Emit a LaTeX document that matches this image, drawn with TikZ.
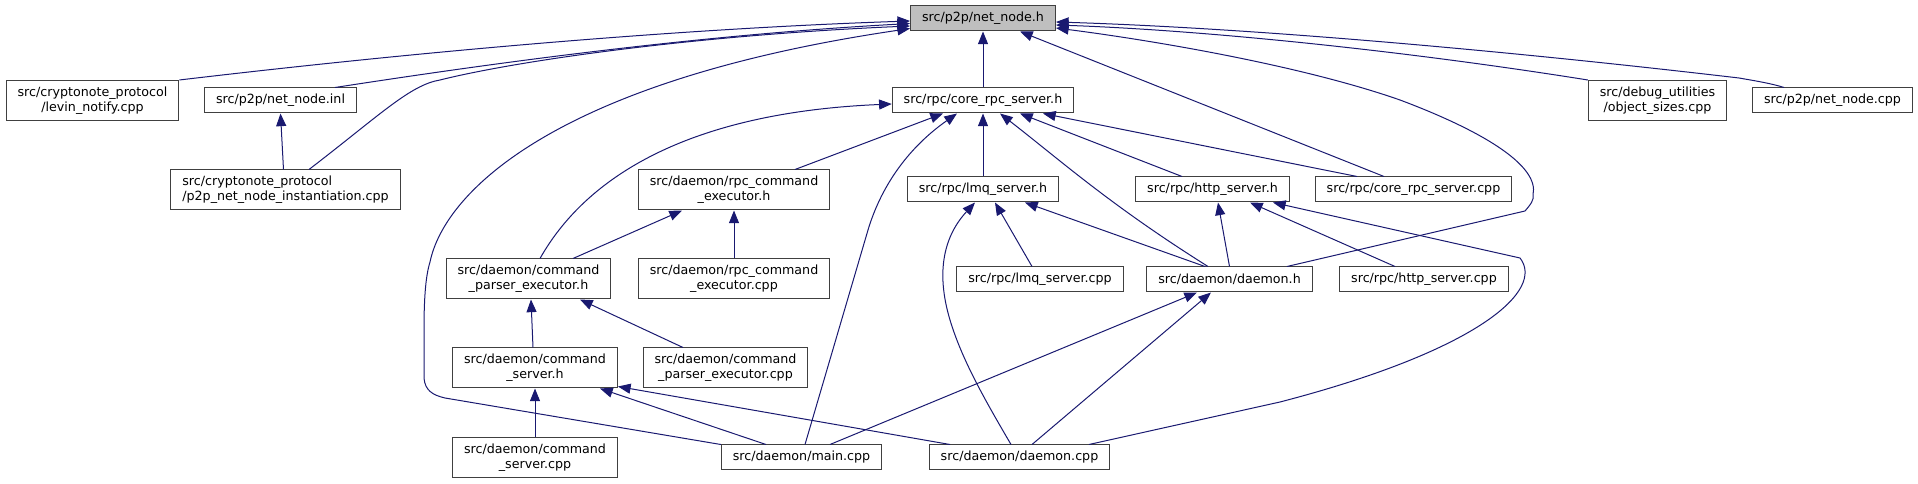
\documentclass[tikz,border=0pt]{standalone}
\usepackage{fontspec}
\setmainfont{DejaVu Sans}
\usetikzlibrary{calc,arrows.meta}
\definecolor{edgeblue}{RGB}{25,25,112}
\definecolor{boxline}{RGB}{64,64,64}
\definecolor{boxgrey}{RGB}{191,191,191}

\begin{document}
\begin{tikzpicture}[x=0.75pt, y=-0.75pt,
    file/.style={draw=boxline, fill=white, line width=0.75pt, inner xsep=8.6pt, inner ysep=1pt, minimum height=18.75pt, align=center, font=\fontsize{9.5}{11.25}\selectfont},
    twoline/.style={file, minimum height=30pt},
    dep/.style={draw=edgeblue, line width=0.75pt, -{Triangle[length=9.5pt,width=7.5pt]}}]
        \useasboundingbox (0,0) rectangle (1918,484);

        \node[file, fill=boxgrey] (netnodeh) at (983,18.5) {src/p2p/net\_node.h};
        \node[twoline] (levin) at (92.5,100.5) {src/cryptonote\_protocol\\/levin\_notify.cpp};
        \node[file] (inl) at (280.5,100.5) {src/p2p/net\_node.inl};
        \node[file] (coreh) at (983,100.5) {src/rpc/core\_rpc\_server.h};
        \node[twoline] (objsizes) at (1657.5,100.5) {src/debug\_utilities\\/object\_sizes.cpp};
        \node[file] (netnodecpp) at (1832.5,100.5) {src/p2p/net\_node.cpp};
        \node[twoline, align=left] (p2pinst) at (285.5,190) {src/cryptonote\_protocol\\/p2p\_net\_node\_instantiation.cpp};
        \node[twoline] (rpcexech) at (734,190) {src/daemon/rpc\_command\\\_executor.h};
        \node[file] (lmqh) at (983,189.5) {src/rpc/lmq\_server.h};
        \node[file] (httph) at (1212.5,189.5) {src/rpc/http\_server.h};
        \node[file] (corecpp) at (1413.5,189.5) {src/rpc/core\_rpc\_server.cpp};
        \node[twoline] (cmdparseh) at (528.5,279) {src/daemon/command\\\_parser\_executor.h};
        \node[twoline] (rpcexeccpp) at (734,279) {src/daemon/rpc\_command\\\_executor.cpp};
        \node[file] (lmqcpp) at (1040,279.5) {src/rpc/lmq\_server.cpp};
        \node[file] (daemonh) at (1229.5,279.5) {src/daemon/daemon.h};
        \node[file] (httpcpp) at (1424,279.5) {src/rpc/http\_server.cpp};
        \node[twoline] (cmdserverh) at (535,368) {src/daemon/command\\\_server.h};
        \node[twoline] (cmdparsecpp) at (725.5,368) {src/daemon/command\\\_parser\_executor.cpp};
        \node[twoline] (cmdservercpp) at (535,458) {src/daemon/command\\\_server.cpp};
        \node[file] (maincpp) at (801.5,457.5) {src/daemon/main.cpp};
        \node[file] (daemoncpp) at (1019.5,457.5) {src/daemon/daemon.cpp};

        \draw[dep] (levin.north east) .. controls (450,48) and (700,28) .. ($(netnodeh.west)+(0,2.5)$);
        \draw[dep] ($(inl.north)+(54.5,0)$) .. controls (500,62) and (700,35) .. ($(netnodeh.west)+(0,5)$);
        \draw[dep] ($(p2pinst.north)+(23.5,0)$) .. controls (380,115) and (410,85) .. (440,80) .. controls (520,60) and (700,35) .. ($(netnodeh.west)+(0,7.5)$);
        \draw[dep] (maincpp.north west) -- (445,398) .. controls (432,395) and (425,390) .. (424,378) -- (424,330) .. controls (424,295) and (426,275) .. (430,262) .. controls (445,190) and (560,80) .. ($(netnodeh.west)+(0,10)$);
        \draw[dep] (coreh.north) -- (netnodeh.south);
        \draw[dep] ($(corecpp.north)+(-29.5,0)$) -- ($(netnodeh.south)+(37,0)$);
        \draw[dep] ($(daemonh.north)+(57.5,0)$) -- (1525,211) .. controls (1531,204) and (1534,200) .. (1533,195) .. controls (1540,165) and (1480,130) .. (1400,100) .. controls (1300,65) and (1150,40) .. ($(netnodeh.east)+(0,9.5)$);
        \draw[dep] (objsizes.north west) .. controls (1400,50) and (1200,30) .. ($(netnodeh.east)+(0,6.5)$);
        \draw[dep] ($(netnodecpp.north)+(-48.5,0)$) .. controls (1770,83) and (1750,80) .. (1739,78) .. controls (1500,50) and (1250,28) .. ($(netnodeh.east)+(0,3.5)$);
        \draw[dep] ($(p2pinst.north)+(-2,0)$) -- (inl.south);

        \draw[dep] ($(cmdparseh.north)+(11.5,0)$) .. controls (590,170) and (700,112) .. ($(coreh.west)+(0,3.5)$);
        \draw[dep] ($(rpcexech.north)+(61,0)$) -- ($(coreh.south)+(-40,0)$);
        \draw[dep] ($(maincpp.north)+(3.5,0)$) -- (868,230) .. controls (880,190) and (905,150) .. ($(coreh.south)+(-26,0)$);
        \draw[dep] (lmqh.north) -- (coreh.south);
        \draw[dep] ($(daemonh.north)+(-21.5,0)$) .. controls (1110,205) and (1060,160) .. ($(coreh.south)+(17,0)$);
        \draw[dep] ($(httph.north)+(-30.5,0)$) -- ($(coreh.south)+(37,0)$);
        \draw[dep] ($(corecpp.north)+(-56.5,0)$) -- ($(coreh.south)+(60,0)$);

        \draw[dep] ($(cmdparseh.north)+(44.5,0)$) -- ($(rpcexech.south)+(-52,0)$);
        \draw[dep] (rpcexeccpp.north) -- (rpcexech.south);
        \draw[dep] ($(daemoncpp.north)+(-8.5,0)$) .. controls (985,400) and (962,360) .. (950,320) .. controls (935,270) and (945,235) .. ($(lmqh.south)+(-8,0)$);
        \draw[dep] ($(lmqcpp.north)+(-8,0)$) -- ($(lmqh.south)+(12,0)$);
        \draw[dep] ($(daemonh.north)+(-24.5,0)$) -- ($(lmqh.south)+(42,0)$);
        \draw[dep] (daemonh.north) -- ($(httph.south)+(5.5,0)$);
        \draw[dep] ($(httpcpp.north)+(-29,0)$) -- ($(httph.south)+(37.5,0)$);
        \draw[dep] ($(daemoncpp.north)+(69.5,0)$) -- (1280,402) .. controls (1480,350) and (1545,290) .. (1520,258) -- ($(httph.south)+(60.5,0)$);

        \draw[dep] ($(cmdserverh.north)+(-2,0)$) -- ($(cmdparseh.south)+(2.5,0)$);
        \draw[dep] ($(cmdparsecpp.north)+(-42.5,0)$) -- ($(cmdparseh.south)+(51.5,0)$);
        \draw[dep] (cmdservercpp.north) -- (cmdserverh.south);
        \draw[dep] ($(maincpp.north)+(-35.5,0)$) -- ($(cmdserverh.south)+(65,0)$);
        \draw[dep] ($(daemoncpp.north)+(-69.5,0)$) -- ($(cmdserverh.south east)+(0,-2)$);
        \draw[dep] ($(maincpp.north)+(28.5,0)$) -- ($(daemonh.south)+(-32.5,0)$);
        \draw[dep] ($(daemoncpp.north)+(12.5,0)$) -- ($(daemonh.south)+(-18.5,0)$);
    \end{tikzpicture}
\end{document}
